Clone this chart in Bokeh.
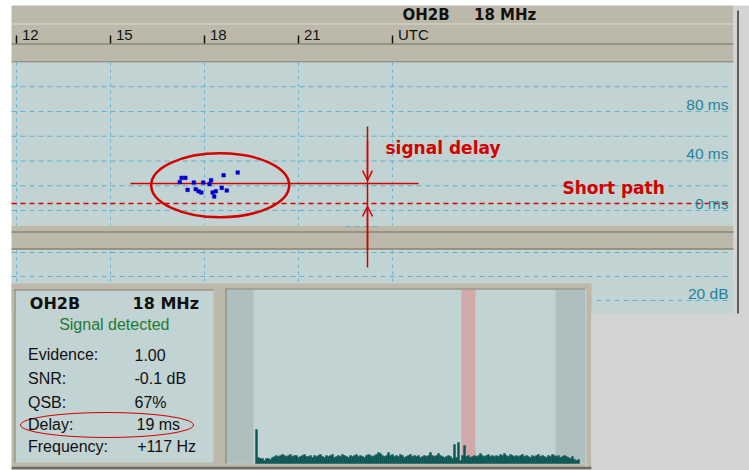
from bokeh.plotting import figure
from bokeh.models import Range1d, Label, Arrow, OpenHead
from bokeh.embed import file_html
from bokeh.resources import INLINE

# ---------------- data ----------------
hour_ticks = [12, 15, 18, 21, 24]
hour_tick_labels = ["12", "15", "18", "21", "UTC"]
delay_grid_ms = [0, 20, 40, 60, 80, 100]
delay_tick_ms = [80, 40, 0]
delay_tick_labels = ["80 ms", "40 ms", "0 ms"]
snr_tick_label = "20 dB"

obs_hour = [17.27, 17.39, 17.21, 17.66, 17.96, 18.21, 18.16, 17.46, 17.72,
            17.81, 17.90, 18.26, 18.36, 18.31, 18.55, 18.71, 18.61, 19.06]
obs_delay_ms = [26.4, 26.4, 22.9, 22.6, 22.6, 24.5, 21.3, 16.7, 17.2,
                15.6, 14.5, 14.5, 15.6, 11.3, 18.3, 16.2, 28.5, 30.7]

short_path_ms = 5.7
marked_delay_ms = 21.8

station = "OH2B"
band = "18 MHz"
status = "Signal detected"
info_names = ["Evidence:", "SNR:", "QSB:", "Delay:", "Frequency:"]
info_values = ["1.00", "-0.1 dB", "67%", "19 ms", "+117 Hz"]

spectrum_level = [
    34, 6, 5, 5, 3, 5, 5, 4, 6, 7,
    8, 7, 8, 9, 8, 7, 8, 9, 7, 8,
    8, 6, 7, 8, 9, 7, 7, 8, 6, 8,
    7, 8, 9, 7, 6, 8, 7, 8, 9, 6,
    7, 8, 7, 9, 8, 7, 6, 8, 7, 8,
    9, 7, 8, 7, 6, 8, 9, 8, 7, 8,
    9, 11, 10, 8, 7, 8, 11, 8, 9, 7,
    8, 7, 9, 8, 6, 7, 8, 9, 7, 8,
    7, 8, 6, 7, 8, 7, 8, 11, 8, 7,
    8, 10, 8, 7, 6, 7, 8, 7, 5, 19,
    6, 21, 3, 8, 18, 7, 8, 6, 7, 8,
    7, 8, 10, 8, 7, 8, 9, 7, 8, 7,
    8, 7, 9, 8, 10, 8, 7, 9, 8, 7,
    8, 7, 8, 9, 7, 8, 7, 6, 8, 7,
    8, 9, 7, 8, 7, 6, 8, 7, 9, 8,
    7, 8, 6, 7, 8, 7, 6, 5, 7, 4,
    3, 4,
]
spectrum_bin = list(range(len(spectrum_level)))

# ---------------- layout (window pixels) ----------------
OFF, W, H = 0, 749, 470
HOUR0_PX, PX_PER_HOUR = 16.0, 94.0 / 3.0
MS0_PX, PX_PER_MS = 210.0, 1.2375
SPEC0_PX, PX_PER_BIN, SPEC_BASE = 256.0, 2.0, 463.0
MID = 0.3465  # middle of text above its baseline, in em

GRAY = "#bdb9aa"
GRAY_DARK = "#8a8779"
GRAY_LIGHT = "#dcd9ce"
WIN = "#d4d4d4"
BG = "#c1d3d3"
SHADE = "#aebfbf"
PINK = "#d0a9aa"
GRID = "#62b2d0"
RED = "#d40000"
TEAL_TXT = "#1f8399"
SPEC = "#0a5451"
FONT = "Liberation Sans"
BOLD = "DejaVu Sans"

p = figure(width=W, height=H,
           x_range=Range1d(12 + (OFF - HOUR0_PX) / PX_PER_HOUR,
                           12 + (OFF + W - HOUR0_PX) / PX_PER_HOUR),
           y_range=Range1d((MS0_PX - (OFF + H)) / PX_PER_MS,
                           (MS0_PX - OFF) / PX_PER_MS),
           x_axis_type=None, y_axis_type=None,
           output_backend="svg", toolbar_location=None, min_border=0,
           background_fill_color="white", border_fill_color="white",
           outline_line_color=None)
p.grid.visible = False
p.extra_x_ranges = {
    "px": Range1d(OFF, OFF + W),
    "spec": Range1d((OFF - SPEC0_PX) / PX_PER_BIN, (OFF + W - SPEC0_PX) / PX_PER_BIN),
}
p.extra_y_ranges = {
    "px": Range1d(OFF + H, OFF),
    "spec": Range1d(SPEC_BASE - (OFF + H), SPEC_BASE - OFF),
}


def box(l, r, t, b, color):
    p.quad(left=[l], right=[r], top=[t], bottom=[b], fill_color=color,
           line_color=None, x_range_name="px", y_range_name="px")


def seg(x0, y0, x1, y1, color, w=1.0, dash="solid"):
    p.segment(x0=[x0], y0=[y0], x1=[x1], y1=[y1], line_color=color,
              line_width=w, line_dash=dash, x_range_name="px", y_range_name="px")


def label(x, base, text, size, color="#111111", font=FONT, bold=False, align="left",
          data_y=False, **kw):
    # base: baseline position in window pixels (or data value when data_y)
    if data_y:
        y = base
        kw["y_offset"] = kw.get("y_offset", 0) + MID * size
    else:
        y = base - MID * size
        kw["y_range_name"] = "px"
    p.add_layout(Label(x=x, y=y, text=text, text_font=font,
                       text_font_size=f"{size}px", text_color=color,
                       text_font_style="bold" if bold else "normal",
                       text_align=align, text_baseline="middle", **kw))


# window background on the right
box(733, 760, 5, 480, WIN)
box(591, 760, 283, 480, WIN)
seg(737.5, 10, 737.5, 313, "#5e5c54", 2)

# header
box(11, 733, 5, 62, GRAY)
seg(11, 23.5, 733, 23.5, GRAY_LIGHT, 1)
seg(11, 43.5, 733, 43.5, GRAY_DARK, 1.5)
seg(11, 61.5, 733, 61.5, GRAY_DARK, 1.5)

# plot panes
box(11, 733, 62, 225, BG)
box(11, 733, 225, 250, GRAY)
seg(11, 231.5, 733, 231.5, GRAY_DARK, 1.5)
seg(11, 248.5, 733, 248.5, GRAY_DARK, 1.5)
box(11, 733, 250, 313, BG)
seg(345, 226, 377, 226, GRID, 1, "5 4")

# grid of the delay pane (data values in ms) and of the SNR pane
p.segment(x0=[11] * len(delay_grid_ms), x1=[729] * len(delay_grid_ms),
          y0=delay_grid_ms, y1=delay_grid_ms, line_color=GRID, line_width=1,
          line_dash="5 4", x_range_name="px")
for yy in [252, 276, 300]:
    seg(11, yy, 729, yy, GRID, 1, "5 4")
p.segment(x0=hour_ticks, x1=hour_ticks, y0=[62] * 5, y1=[225] * 5,
          line_color=GRID, line_width=1, line_dash="3 4", y_range_name="px")
p.segment(x0=hour_ticks, x1=hour_ticks, y0=[250] * 5, y1=[313] * 5,
          line_color=GRID, line_width=1, line_dash="3 4", y_range_name="px")

# time ticks in header
p.segment(x0=hour_ticks, x1=hour_ticks, y0=[35] * 5, y1=[43] * 5,
          line_color="#111111", line_width=1.5, y_range_name="px")
for h, t in zip(hour_ticks, hour_tick_labels):
    label(h, 39.4, t, 15, x_offset=5.5)
label(402, 19.4, station, 15, "#111111", BOLD, True, x_range_name="px")
label(473.5, 19.4, band, 15, "#111111", BOLD, True, x_range_name="px")

# delay tick labels (baseline ~2 px above the grid line of the value)
for ms, t in zip(delay_tick_ms, delay_tick_labels):
    label(728, ms, t, 15.5, TEAL_TXT, align="right", data_y=True, y_offset=2,
          x_range_name="px")
label(728, 298.7, snr_tick_label, 15.5, TEAL_TXT, align="right", x_range_name="px")

# short path reference line
p.segment(x0=[11], x1=[729], y0=[short_path_ms], y1=[short_path_ms],
          line_color=RED, line_width=1.5, line_dash="5 4", x_range_name="px")

# marked delay line and observations
p.segment(x0=[130], x1=[418], y0=[marked_delay_ms], y1=[marked_delay_ms],
          line_color=RED, line_width=1.5, x_range_name="px")
p.scatter(obs_hour, obs_delay_ms, marker="square", size=3.6,
          fill_color="#0000cc", line_color="#0000cc", line_width=0.5)
p.ellipse(x=[219.7], y=[184.7], width=[138], height=[64], fill_color=None,
          line_color=RED, line_width=2.5, x_range_name="px", y_range_name="px")

# bottom panels
box(11, 591, 283, 466, GRAY)
seg(11, 467.5, 591, 467.5, "#6e6b60", 3)
box(15, 213, 290, 462, BG)
seg(14.5, 289, 14.5, 462, GRAY_DARK, 1)
seg(14, 289.5, 213, 289.5, GRAY_DARK, 1)
box(226, 585, 289, 463, BG)
box(226, 253, 289, 463, SHADE)
box(555, 585, 289, 463, SHADE)
box(461, 475, 289, 463, PINK)
seg(225.5, 288, 225.5, 463, GRAY_DARK, 1.2)
seg(225, 288.5, 585, 288.5, GRAY_DARK, 1.2)
seg(585.5, 288, 585.5, 466, "#d2cfc4", 1)

p.vbar(x=spectrum_bin, top=spectrum_level, bottom=0, width=1.0,
       fill_color=SPEC, line_color=SPEC, line_width=0.4,
       x_range_name="spec", y_range_name="spec")

# info panel
label(29.3, 308.3, station, 16, "#111111", BOLD, True, x_range_name="px")
label(198.5, 308.3, band, 16, "#111111", BOLD, True, align="right", x_range_name="px")
label(113.8, 330, status, 16, "#1f7a35", align="center", x_range_name="px")
for name, val, yb, xv in zip(info_names, info_values,
                             [360, 384, 407.3, 429.5, 451.7],
                             [134, 134, 134, 136, 136.7]):
    label(27.5, yb, name, 16, x_range_name="px")
    label(xv, yb, val, 16, x_range_name="px")
p.ellipse(x=[106.5], y=[424.5], width=[173], height=[25], fill_color=None,
          line_color=RED, line_width=1, x_range_name="px", y_range_name="px")

# signal delay annotation
seg(367, 126, 367, 267, RED, 1.5)
p.add_layout(Arrow(end=OpenHead(size=10, line_color=RED, line_width=1.5),
                   x_start=367, y_start=140, x_end=367, y_end=180,
                   line_color=RED, line_width=1.5,
                   x_range_name="px", y_range_name="px"))
p.add_layout(Arrow(end=OpenHead(size=10, line_color=RED, line_width=1.5),
                   x_start=367, y_start=250, x_end=367, y_end=206,
                   line_color=RED, line_width=1.5,
                   x_range_name="px", y_range_name="px"))
label(385, 153, "signal delay", 17, RED, BOLD, True, x_range_name="px")
label(562, 193.3, "Short path", 17, RED, BOLD, True, x_range_name="px")

open("out.html", "w").write(file_html(p, INLINE))
